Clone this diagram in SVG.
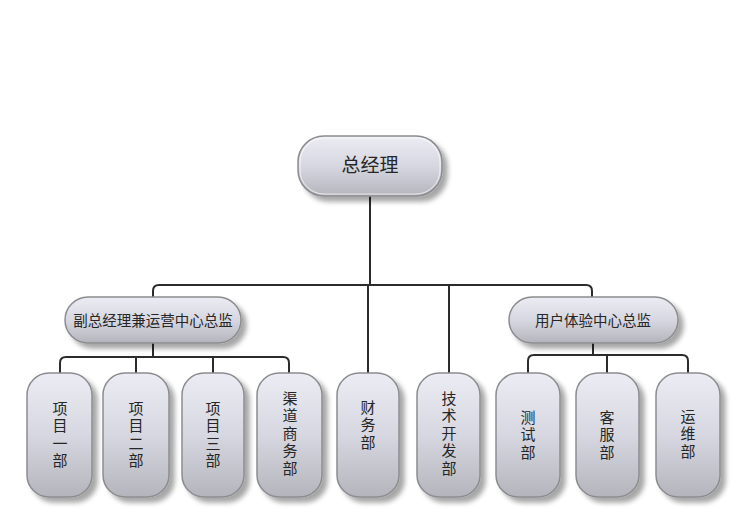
<svg xmlns="http://www.w3.org/2000/svg" width="743" height="532" viewBox="0 0 743 532">
<defs>
<linearGradient id="g" x1="0" y1="0" x2="0" y2="1">
<stop offset="0" stop-color="#ececf4"/>
<stop offset="0.5" stop-color="#d6d7e0"/>
<stop offset="1" stop-color="#b4b5bc"/>
</linearGradient>
<filter id="sh" x="-20%" y="-20%" width="150%" height="150%">
<feGaussianBlur in="SourceAlpha" stdDeviation="2.5"/>
<feOffset dx="5" dy="5" result="b"/>
<feComponentTransfer><feFuncA type="linear" slope="0.35"/></feComponentTransfer>
<feMerge><feMergeNode/><feMergeNode in="SourceGraphic"/></feMerge>
</filter>
</defs>
<style>
.box{fill:url(#g);stroke:#8c8c90;stroke-width:1.5;filter:url(#sh)}
.in{fill:none;stroke:#ffffff;stroke-opacity:0.7;stroke-width:1}
.t{font-family:"Noto Sans CJK SC","Noto Sans",sans-serif;fill:#262626;text-anchor:middle}
.v{font-size:15px;writing-mode:vertical-rl;letter-spacing:2.5px}
.c{fill:none;stroke:#2b2b2b;stroke-width:2;stroke-linejoin:round}
</style>
<rect width="743" height="532" fill="#ffffff"/>
<g id="connectors">
<path class="c" d="M370,195 V285 M153,297 V291 Q153,285 159,285 H586 Q592,285 592,291 V297 M368,285 V373 M449,285 V373"/>
<path class="c" d="M153,342 V357 M60,373 V363 Q60,357 66,357 H283 Q289,357 289,363 V373 M136,357 V373 M213,357 V373"/>
<path class="c" d="M593,343 V355 M528,373 V361 Q528,355 534,355 H682 Q688,355 688,361 V373 M607,355 V373"/>
</g>
<g id="n-ceo">
<rect class="box" x="298" y="136" width="144" height="60" rx="26"/>
<rect class="in" x="300" y="138" width="140" height="56" rx="24"/>
<text class="t" x="370" y="172" font-size="19">总经理</text>
</g>
<g id="n-ops">
<rect class="box" x="65" y="297" width="176" height="46" rx="23"/>
<text class="t" x="153" y="325.5" font-size="14.5">副总经理兼运营中心总监</text>
</g>
<g id="n-ux">
<rect class="box" x="509" y="297" width="169" height="46" rx="23"/>
<text class="t" x="593" y="325.5" font-size="14.5">用户体验中心总监</text>
</g>
<g id="n-p1">
<rect class="box" x="27" y="373" width="65" height="124" rx="22"/>
<text class="t v" x="60" y="435.5">项目一部</text>
</g>
<g id="n-p2">
<rect class="box" x="103" y="373" width="66" height="124" rx="22"/>
<text class="t v" x="136" y="435.5">项目二部</text>
</g>
<g id="n-p3">
<rect class="box" x="182" y="373" width="62" height="124" rx="22"/>
<text class="t v" x="213" y="435.5">项目三部</text>
</g>
<g id="n-channel">
<rect class="box" x="257" y="373" width="65" height="124" rx="22"/>
<text class="t v" x="290" y="434.5">渠道商务部</text>
</g>
<g id="n-fin">
<rect class="box" x="337" y="373" width="62" height="124" rx="22"/>
<text class="t v" x="368" y="426">财务部</text>
</g>
<g id="n-tech">
<rect class="box" x="417" y="373" width="63" height="124" rx="22"/>
<text class="t v" x="449" y="434.5">技术开发部</text>
</g>
<g id="n-test">
<rect class="box" x="496" y="373" width="64" height="124" rx="22"/>
<text class="t v" x="528" y="436">测试部</text>
</g>
<g id="n-cs">
<rect class="box" x="576" y="373" width="63" height="124" rx="22"/>
<text class="t v" x="607" y="436">客服部</text>
</g>
<g id="n-ops2">
<rect class="box" x="656" y="373" width="64" height="124" rx="22"/>
<text class="t v" x="688" y="435">运维部</text>
</g>
</svg>
